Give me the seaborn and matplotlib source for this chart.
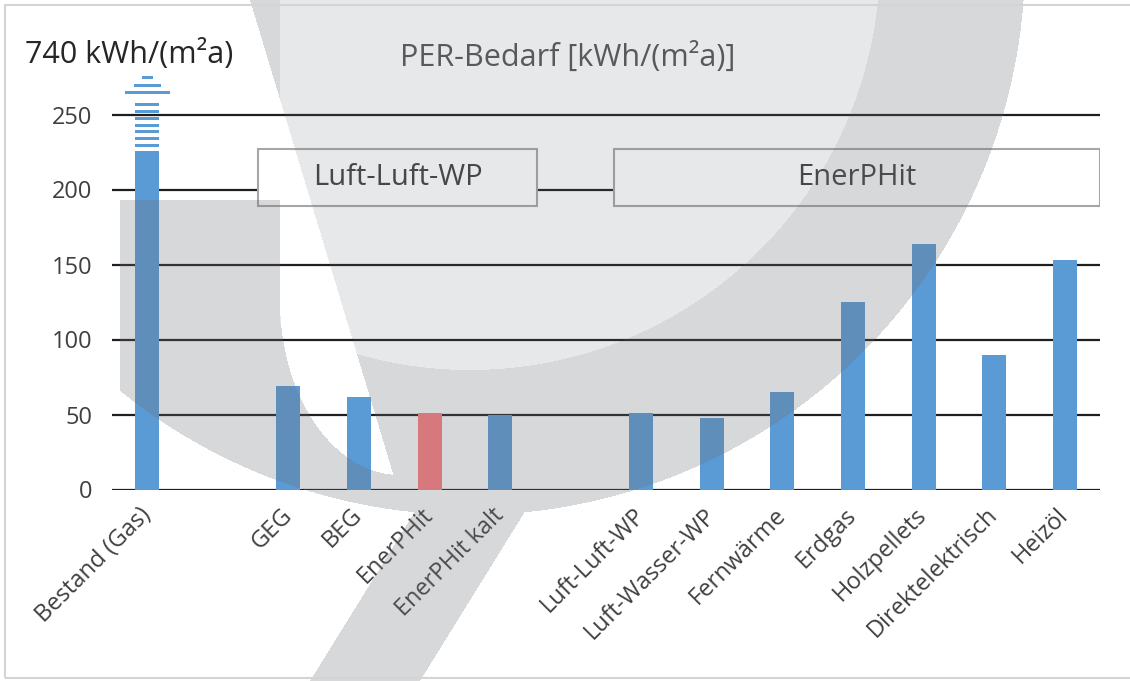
import numpy as np
import pandas as pd
import matplotlib
matplotlib.use("Agg")
import matplotlib.pyplot as plt
from matplotlib.patches import Rectangle
import seaborn as sns

# ----------------------------------------------------------------------
# Data (PER-Bedarf in kWh/(m²a)); blank slots separate the groups
# ----------------------------------------------------------------------
categories = ["Bestand (Gas)", " ", "GEG", "BEG", "EnerPHit", "EnerPHit kalt", "  ",
              "Luft-Luft-WP", "Luft-Wasser-WP", "Fernwärme", "Erdgas", "Holzpellets",
              "Direktelektrisch", "Heizöl"]
values = [740, np.nan, 69, 62, 51, 50, np.nan, 51, 48, 65, 125, 164, 90, 153]
highlight = "EnerPHit"
y_ticks = [0, 50, 100, 150, 200, 250]
group_labels = ["Luft-Luft-WP", "EnerPHit"]
title = "PER-Bedarf [kWh/(m²a)]"
overflow_label = "740 kWh/(m²a)"

BLUE = "#5b9bd5"
RED = "#ff7c80"
BREAK_AT = 226          # where the off-scale bar gets cut

W, H = 1130, 681
sns.set_style("white")
plt.rcParams["font.family"] = ["Open Sans", "DejaVu Sans"]


def fx(x):
    return x / W


def fy(y):
    return 1 - y / H


fig = plt.figure(figsize=(W / 100, H / 100), dpi=100)
ax = fig.add_axes([fx(112), fy(489.5), 988 / W, 420 / H])

df = pd.DataFrame({"cat": categories, "val": np.minimum(values, BREAK_AT)})
palette = {c: (RED if c == highlight else BLUE) for c in categories}
sns.barplot(data=df, x="cat", y="val", order=categories, hue="cat", palette=palette,
            width=0.34, saturation=1, errorbar=None, legend=False, ax=ax, zorder=3,
            linewidth=0)

# horizontal grid lines
for t in y_ticks:
    ax.axhline(t, color="#1e1e1e", lw=1.6, zorder=1)

# cut bar continued as striped arrow
i0 = int(np.nanargmax(values))
stripe = dict(color=BLUE, linewidth=0, edgecolor="none", zorder=3)
for k in range(7):
    ax.bar(i0, 1.9, bottom=BREAK_AT + 2.5 + k * 4.5, width=0.34, **stripe)
ax.bar(i0, 2.0, bottom=BREAK_AT + 37.5, width=0.64, **stripe)
ax.bar(i0, 2.0, bottom=BREAK_AT + 42.5, width=0.38, **stripe)
ax.bar(i0, 2.0, bottom=BREAK_AT + 47.5, width=0.16, **stripe)

# group boxes
boxes = [(1.57, 5.52), (6.61, 13.5)]
for lab, (x0, x1) in zip(group_labels, boxes):
    ax.add_patch(Rectangle((x0, 189), x1 - x0, 38, facecolor="white",
                           edgecolor="#a6a6a6", lw=1.5, zorder=2))
    ax.text((x0 + x1) / 2, 208, lab, ha="center", va="center", fontsize=21,
            color="#404040", zorder=4)

ax.set_xlim(-0.5, len(categories) - 0.5)
ax.set_ylim(0, 280)
ax.set_yticks(y_ticks)
ax.set_yticklabels([str(t) for t in y_ticks], fontsize=17, color="#404040")
ax.set_xticks(range(len(categories)))
ax.set_xticklabels(categories, rotation=45, ha="right", va="center",
                   rotation_mode="anchor", fontsize=17, color="#404040")
ax.tick_params(axis="x", length=0, pad=16)
ax.tick_params(axis="y", length=0, pad=14)
ax.set_xlabel("")
ax.set_ylabel("")
sns.despine(ax=ax, left=True, bottom=True)
ax.patch.set_alpha(0)

fig.text(fx(25), fy(55), overflow_label, ha="left", va="center", fontsize=22, color="#262626")
fig.text(fx(568), fy(57), title, ha="center", va="center", fontsize=22, color="#595959")

# outer frame
fig.add_artist(Rectangle((fx(5), fy(678)), 1.2, 673 / H, transform=fig.transFigure,
                         fill=False, edgecolor="#d4d4d4", lw=1.5))

# ----------------------------------------------------------------------
# grey logo watermark laid over the chart
# ----------------------------------------------------------------------
yy, xx = np.mgrid[0:H, 0:W] + 0.5
r = np.hypot(xx - 470, yy + 40)
bowl = (r <= 555) & (xx >= 120)
diag = 250 + 0.302 * yy
hole = (xx < diag) & ((xx > 280) | (yy < 200))
hole &= (yy <= 300) | (((xx - 400) / 120) ** 2 + ((yy - 300) / 175) ** 2 <= 1)
bowl &= ~hole
ring = bowl & ((r >= 410) | (xx <= 280))
inner = bowl & ~ring
stem_left = 310 + (681 - yy) * 0.62
stem = (yy >= 470) & (xx >= stem_left) & (xx <= stem_left + 110)

alpha = np.zeros((H, W))
alpha[inner] = 0.16
alpha[ring] = 0.27
alpha[stem] = 0.27
rgba = np.zeros((H, W, 4))
rgba[..., 0], rgba[..., 1], rgba[..., 2] = 0.42, 0.43, 0.47
rgba[..., 3] = alpha

ov = fig.add_axes([0, 0, 1, 1])
ov.imshow(rgba, aspect="auto", interpolation="nearest")
ov.set_axis_off()

fig.savefig("out.png", dpi=100)
